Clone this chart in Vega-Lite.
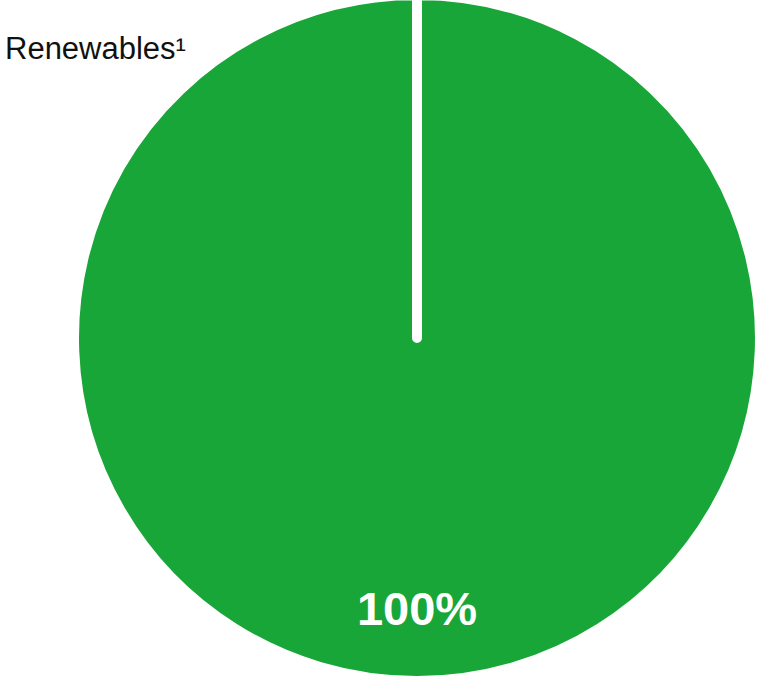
{
  "$schema": "https://vega.github.io/schema/vega-lite/v6.json",
  "autosize": "none",
  "width": 676,
  "height": 676,
  "padding": {"left": 79, "top": 0, "right": 0, "bottom": 0},
  "background": "white",
  "title": {
    "text": "Renewables¹",
    "anchor": "start",
    "frame": "group",
    "font": "Liberation Sans",
    "fontSize": 31,
    "fontWeight": "normal",
    "color": "#111111",
    "dx": -74,
    "dy": 76,
    "offset": 0
  },
  "data": {"values": [{"source": "Renewables", "share": 100, "label": "100%"}]},
  "encoding": {
    "theta": {"field": "share", "type": "quantitative", "stack": true, "scale": {"domain": [0, 100.001]}}
  },
  "layer": [
    {
      "mark": {"type": "arc", "outerRadius": 343, "stroke": "white", "strokeWidth": 10, "strokeJoin": "round"},
      "encoding": {"color": {"value": "#19a638"}}
    },
    {
      "mark": {"type": "text", "radius": 273, "font": "Liberation Sans", "fontSize": 47, "fontWeight": "bold", "color": "white", "baseline": "middle", "align": "center"},
      "encoding": {"text": {"field": "label"}}
    }
  ],
  "config": {"view": {"stroke": null}}
}
